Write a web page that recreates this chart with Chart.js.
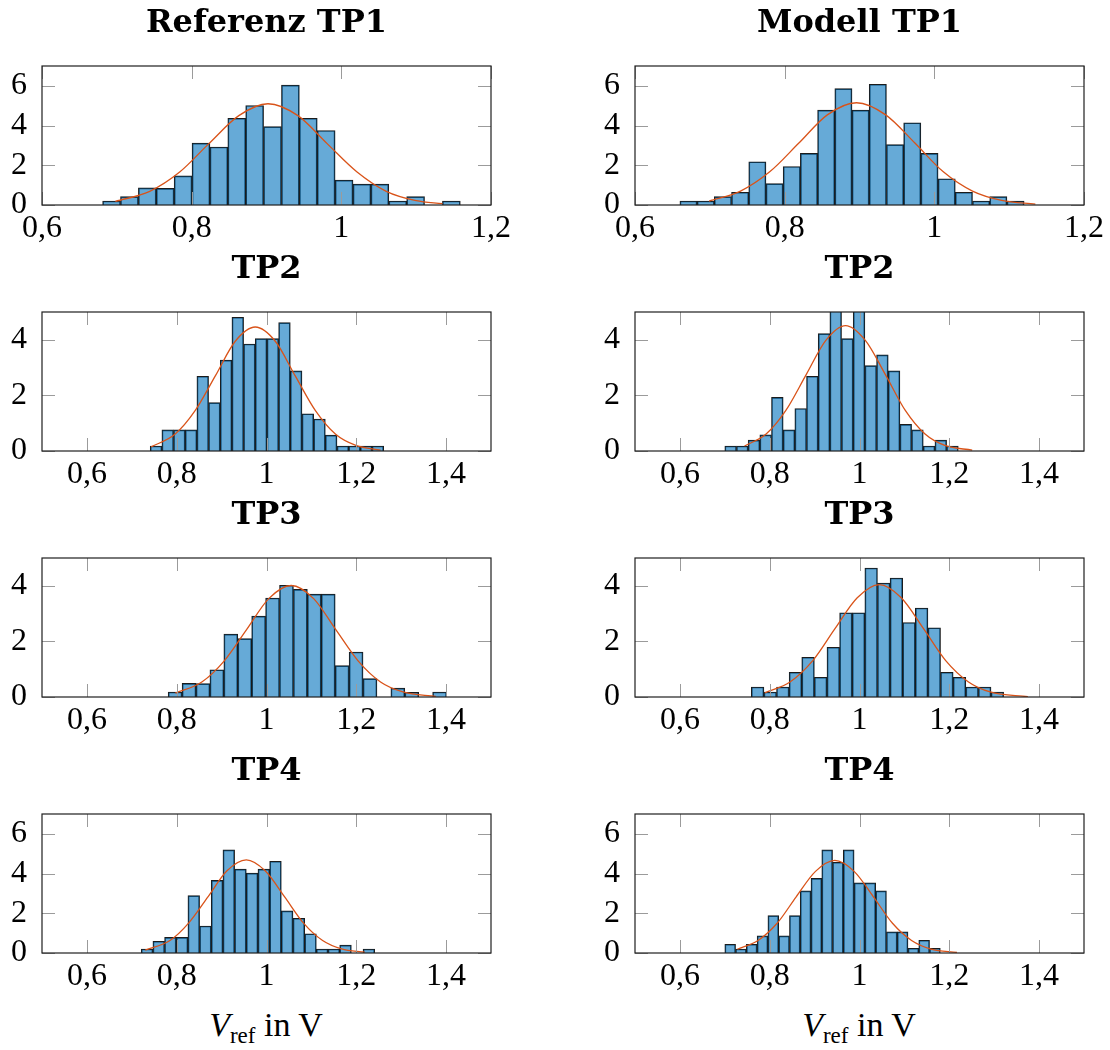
<!DOCTYPE html>
<html>
<head>
<meta charset="utf-8">
<script src="https://cdn.jsdelivr.net/npm/chart.js@4"></script>
<style>
  body { margin: 0; background: #fff; overflow: hidden; }
  #wrap { position: relative; width: 1110px; height: 1050px; overflow: hidden; }
  #wrap canvas { position: absolute; }
  .xlabel { position: absolute; width: 300px; text-align: center; font: 34px "Liberation Serif", serif; color: #000; }
  .xlabel sub { font-size: 23px; vertical-align: -7px; }
</style>
</head>
<body>
<div id="wrap">
  <div class="xlabel" style="left:116px; top:1006px;"><i>V</i><sub>ref</sub> in V</div>
  <div class="xlabel" style="left:709px; top:1006px;"><i>V</i><sub>ref</sub> in V</div>
</div>
<script>
// tick values
const xTicksTP1 = [0.6, 0.8, 1.0, 1.2];
const xTicksTP = [0.6, 0.8, 1.0, 1.2, 1.4];
const yTicks7 = [0, 2, 4, 6];
const yTicks5 = [0, 2, 4];

// histograms (density per bin), first bin edge and bin width
const refTP1Heights = [0.2, 0.42, 0.86, 0.84, 1.47, 3.12, 2.92, 4.37, 5.01, 3.95, 6.04, 4.37, 3.75, 1.25, 1.05, 1.05, 0.2, 0.42, 0, 0.2];
const refTP1Bin = [0.681, 0.0239];
const refTP1CurveX = [0.698, 0.744, 0.784, 0.823, 0.863, 0.902, 0.942, 0.981, 1.021, 1.060, 1.100, 1.135];
const refTP1CurveY = [0.18, 0.69, 1.66, 3.09, 4.50, 5.10, 4.50, 3.09, 1.66, 0.69, 0.22, 0.07];

const modTP1Heights = [0.2, 0.2, 0.42, 0.64, 2.18, 1.08, 1.94, 2.6, 4.78, 5.86, 4.78, 6.08, 3.04, 4.14, 2.6, 1.32, 0.64, 0.2, 0.42, 0.2];
const modTP1Bin = [0.660, 0.0230];
const modTP1CurveX = [0.699, 0.741, 0.780, 0.819, 0.857, 0.896, 0.935, 0.974, 1.012, 1.051, 1.090, 1.135];
const modTP1CurveY = [0.20, 0.70, 1.67, 3.12, 4.54, 5.15, 4.54, 3.12, 1.67, 0.70, 0.23, 0.04];

const refTP2Heights = [0.18, 0.76, 0.76, 0.76, 2.69, 1.74, 3.27, 4.81, 3.85, 4.04, 4.04, 4.62, 2.88, 1.34, 1.15, 0.57, 0.18, 0.18, 0.18, 0.18];
const refTP2Bin = [0.741, 0.0260];
const refTP2CurveX = [0.743, 0.796, 0.841, 0.886, 0.930, 0.975, 1.020, 1.064, 1.109, 1.154, 1.199, 1.254];
const refTP2CurveY = [0.15, 0.60, 1.45, 2.70, 3.94, 4.46, 3.94, 2.70, 1.45, 0.60, 0.20, 0.03];

const modTP2Heights = [0.18, 0.18, 0.39, 0.58, 1.93, 0.76, 1.53, 2.69, 4.22, 5.4, 4.04, 5.2, 3.07, 3.46, 2.88, 0.96, 0.76, 0.18, 0.39, 0.18];
const modTP2Bin = [0.700, 0.0260];
const modTP2CurveX = [0.744, 0.792, 0.836, 0.881, 0.925, 0.969, 1.013, 1.058, 1.102, 1.146, 1.190, 1.251];
const modTP2CurveY = [0.18, 0.61, 1.46, 2.74, 3.98, 4.51, 3.98, 2.74, 1.46, 0.61, 0.20, 0.03];

const refTP3Heights = [0.18, 0.49, 0.48, 0.98, 2.26, 2.10, 2.91, 3.56, 4.02, 3.87, 3.70, 3.70, 1.13, 1.62, 0.66, 0, 0.32, 0.17, 0, 0.18];
const refTP3Bin = [0.781, 0.0310];
const refTP3CurveX = [0.797, 0.856, 0.906, 0.956, 1.005, 1.055, 1.105, 1.154, 1.204, 1.254, 1.304, 1.377];
const refTP3CurveY = [0.14, 0.54, 1.30, 2.43, 3.54, 4.01, 3.54, 2.43, 1.30, 0.54, 0.18, 0.02];

const modTP3Heights = [0.36, 0.18, 0.36, 0.89, 1.43, 0.71, 1.79, 3.03, 3.03, 4.64, 4.10, 4.28, 2.68, 3.20, 2.49, 0.89, 0.71, 0.36, 0.36, 0.18];
const modTP3Bin = [0.759, 0.0281];
const modTP3CurveX = [0.789, 0.846, 0.896, 0.945, 0.995, 1.044, 1.093, 1.143, 1.192, 1.242, 1.291, 1.375];
const modTP3CurveY = [0.15, 0.55, 1.31, 2.45, 3.57, 4.04, 3.57, 2.45, 1.31, 0.55, 0.18, 0.01];

const refTP4Heights = [0.2, 0.59, 0.79, 0.79, 2.89, 1.36, 3.66, 5.19, 4.22, 4.02, 4.22, 4.62, 2.12, 1.75, 0.97, 0.2, 0.2, 0.40, 0, 0.2];
const refTP4Bin = [0.721, 0.0260];
const refTP4CurveX = [0.730, 0.785, 0.827, 0.870, 0.912, 0.955, 0.997, 1.040, 1.082, 1.125, 1.167, 1.219];
const refTP4CurveY = [0.14, 0.63, 1.52, 2.84, 4.14, 4.69, 4.14, 2.84, 1.52, 0.63, 0.21, 0.04];

const modTP4Heights = [0.44, 0.2, 0.44, 0.86, 1.88, 0.86, 1.88, 3.13, 3.76, 5.19, 4.57, 5.19, 3.53, 3.53, 3.13, 1.06, 1.06, 0.24, 0.64, 0.24];
const modTP4Bin = [0.700, 0.0240];
const modTP4CurveX = [0.728, 0.774, 0.817, 0.859, 0.902, 0.945, 0.988, 1.031, 1.073, 1.116, 1.159, 1.217];
const modTP4CurveY = [0.19, 0.63, 1.51, 2.83, 4.11, 4.66, 4.11, 2.83, 1.51, 0.63, 0.20, 0.03];

const panels = [
  {title: 'Referenz TP1', h: refTP1Heights, bin: refTP1Bin, cx: refTP1CurveX, cy: refTP1CurveY, xr: [0.6, 1.2], xt: xTicksTP1, ymax: 7, yt: yTicks7, left: 0, top: 0},
  {title: 'Modell TP1', h: modTP1Heights, bin: modTP1Bin, cx: modTP1CurveX, cy: modTP1CurveY, xr: [0.6, 1.2], xt: xTicksTP1, ymax: 7, yt: yTicks7, left: 593, top: 0},
  {title: 'TP2', h: refTP2Heights, bin: refTP2Bin, cx: refTP2CurveX, cy: refTP2CurveY, xr: [0.5, 1.5], xt: xTicksTP, ymax: 5, yt: yTicks5, left: 0, top: 246},
  {title: 'TP2', h: modTP2Heights, bin: modTP2Bin, cx: modTP2CurveX, cy: modTP2CurveY, xr: [0.5, 1.5], xt: xTicksTP, ymax: 5, yt: yTicks5, left: 593, top: 246},
  {title: 'TP3', h: refTP3Heights, bin: refTP3Bin, cx: refTP3CurveX, cy: refTP3CurveY, xr: [0.5, 1.5], xt: xTicksTP, ymax: 5, yt: yTicks5, left: 0, top: 492},
  {title: 'TP3', h: modTP3Heights, bin: modTP3Bin, cx: modTP3CurveX, cy: modTP3CurveY, xr: [0.5, 1.5], xt: xTicksTP, ymax: 5, yt: yTicks5, left: 593, top: 492},
  {title: 'TP4', h: refTP4Heights, bin: refTP4Bin, cx: refTP4CurveX, cy: refTP4CurveY, xr: [0.5, 1.5], xt: xTicksTP, ymax: 7, yt: yTicks7, left: 0, top: 748},
  {title: 'TP4', h: modTP4Heights, bin: modTP4Bin, cx: modTP4CurveX, cy: modTP4CurveY, xr: [0.5, 1.5], xt: xTicksTP, ymax: 7, yt: yTicks7, left: 593, top: 748}
];

// inner tick marks on all four sides + box frame, like pgfplots
const frameTicks = {
  id: 'frameTicks',
  afterDatasetsDraw(chart) {
    const {ctx, chartArea: a} = chart;
    const x = chart.scales.x, y = chart.scales.y;
    const len = 13;
    ctx.save();
    ctx.strokeStyle = '#9b9b9b';
    ctx.lineWidth = 1;
    ctx.beginPath();
    x.ticks.forEach(t => {
      const px = Math.round(x.getPixelForValue(t.value)) + 0.5;
      ctx.moveTo(px, a.bottom); ctx.lineTo(px, a.bottom - len);
      ctx.moveTo(px, a.top); ctx.lineTo(px, a.top + len);
    });
    y.ticks.forEach(t => {
      const py = Math.round(y.getPixelForValue(t.value)) + 0.5;
      ctx.moveTo(a.left, py); ctx.lineTo(a.left + len, py);
      ctx.moveTo(a.right, py); ctx.lineTo(a.right - len, py);
    });
    ctx.stroke();
    ctx.strokeStyle = '#1e1e1e';
    ctx.lineWidth = 1.2;
    ctx.strokeRect(a.left, a.top, a.width, a.height);
    ctx.restore();
  }
};

const tickFont = {family: '"Liberation Serif", serif', size: 32};
const fmt = v => String(v).replace('.', ',');

const wrap = document.getElementById('wrap');
panels.forEach(p => {
  const cv = document.createElement('canvas');
  cv.width = 533;
  cv.height = 246;
  cv.style.left = p.left + 'px';
  cv.style.top = p.top + 'px';
  wrap.appendChild(cv);

  const bars = p.h.map((v, i) => ({x: p.bin[0] + (i + 0.5) * p.bin[1], y: v}));
  const curve = p.cx.map((v, i) => ({x: v, y: p.cy[i]}));

  new Chart(cv.getContext('2d'), {
    type: 'bar',
    data: {
      datasets: [{
        type: 'line',
        data: curve,
        borderColor: '#D95319',
        borderWidth: 1.3,
        pointRadius: 0,
        cubicInterpolationMode: 'monotone',
        order: 0
      }, {
        type: 'bar',
        data: bars,
        backgroundColor: 'rgba(0,114,189,0.6)',
        borderColor: '#1b1b1b',
        borderWidth: 1,
        barPercentage: 1,
        categoryPercentage: 1,
        order: 1
      }]
    },
    options: {
      responsive: false,
      animation: false,
      layout: {padding: 0},
      plugins: {
        legend: {display: false},
        tooltip: {enabled: false},
        title: {
          display: true,
          text: p.title,
          color: '#000',
          font: {family: '"DejaVu Serif", serif', size: 32, weight: 'bold'},
          padding: {top: 4, bottom: 23.6}
        }
      },
      scales: {
        x: {
          type: 'linear',
          min: p.xr[0],
          max: p.xr[1],
          offset: false,
          grid: {display: false, drawTicks: false},
          border: {display: false},
          ticks: {color: '#000', font: tickFont, padding: 4, autoSkip: false, maxRotation: 0, callback: fmt},
          afterBuildTicks: s => { s.ticks = p.xt.map(v => ({value: v})); },
          afterFit: s => { s.height = 41; }
        },
        y: {
          min: 0,
          max: p.ymax,
          grid: {display: false, drawTicks: false},
          border: {display: false},
          ticks: {color: '#000', font: tickFont, padding: 15, autoSkip: false, callback: fmt},
          afterBuildTicks: s => { s.ticks = p.yt.map(v => ({value: v})); },
          afterFit: s => { s.width = 42; }
        },
        // empty right axis, keeps the plot centred under the title
        yr: {
          position: 'right',
          grid: {display: false, drawTicks: false},
          border: {display: false},
          ticks: {display: false},
          afterFit: s => { s.width = 42; }
        }
      }
    },
    plugins: [frameTicks]
  });
});
</script>
</body>
</html>
